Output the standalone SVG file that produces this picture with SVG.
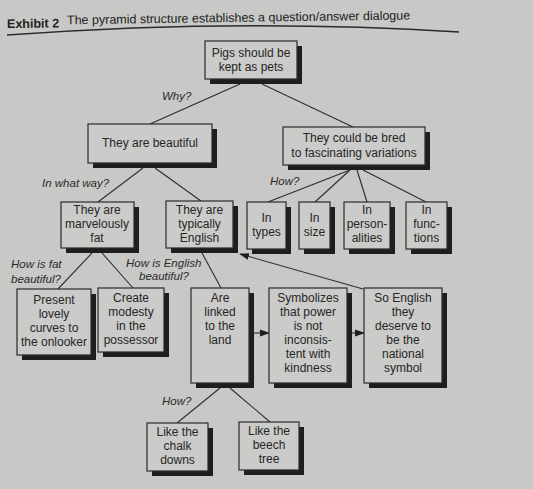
<svg xmlns="http://www.w3.org/2000/svg" width="533" height="489" viewBox="0 0 533 489">
<defs>
<style>
.bg{fill:#c8c8c6}
.sh{fill:#1e1e1e}
.bx{fill:#cbcbc9;stroke:#2a2a2a;stroke-width:1.2}
.t{font-family:"Liberation Sans",Arial,sans-serif;font-size:12px;fill:#262626;text-anchor:middle}
.q{font-family:"Liberation Sans",Arial,sans-serif;font-size:11.5px;font-style:italic;fill:#2a2a2a}
.c{stroke:#2e2e2e;stroke-width:1.1;fill:none}
</style>
<marker id="ah" markerWidth="10" markerHeight="8" refX="9" refY="4" orient="auto" markerUnits="userSpaceOnUse">
<path d="M0,0.5 L10,4 L0,7.5 Z" fill="#1e1e1e"/>
</marker>
</defs>
<rect class="bg" x="0" y="0" width="533" height="489"/>
<g id="title" transform="rotate(-0.8 230 22)">
<text x="7" y="25" font-family="Liberation Sans,Arial,sans-serif" font-size="12.5" font-weight="bold" fill="#222">Exhibit 2</text>
<text x="67" y="22" font-family="Liberation Sans,Arial,sans-serif" font-size="12.5" fill="#222">The pyramid structure establishes a question/answer dialogue</text>
</g>
<path d="M7,35 Q240,18 459,32" stroke="#2a2a2a" stroke-width="1.5" fill="none"/>

<g id="connectors">
<line class="c" x1="240" y1="84" x2="150" y2="124"/>
<line class="c" x1="262" y1="84" x2="353" y2="127"/>
<line class="c" x1="143" y1="168" x2="98" y2="202"/>
<line class="c" x1="155" y1="168" x2="201" y2="201"/>
<line class="c" x1="350" y1="170" x2="268" y2="202"/>
<line class="c" x1="350" y1="170" x2="315" y2="202"/>
<line class="c" x1="357" y1="170" x2="367" y2="202"/>
<line class="c" x1="363" y1="170" x2="426" y2="202"/>
<line class="c" x1="92" y1="253" x2="58" y2="289"/>
<line class="c" x1="102" y1="253" x2="133" y2="288"/>
<line class="c" x1="202" y1="253" x2="221" y2="288"/>
<line class="c" x1="363" y1="289" x2="240" y2="254" marker-end="url(#ah)"/>
<line class="c" x1="249" y1="333" x2="269" y2="333" marker-end="url(#ah)"/>
<line class="c" x1="347" y1="333" x2="364" y2="333" marker-end="url(#ah)"/>
<line class="c" x1="220" y1="388" x2="177" y2="423"/>
<line class="c" x1="230" y1="388" x2="270" y2="422"/>
</g>

<g id="labels">
<text class="q" x="162" y="100">Why?</text>
<text class="q" x="42" y="187">In what way?</text>
<text class="q" x="270" y="185">How?</text>
<text class="q" x="11" y="268">How is fat</text>
<text class="q" x="11" y="283">beautiful?</text>
<text class="q" x="126" y="267">How is English</text>
<text class="q" x="139" y="280">beautiful?</text>
<text class="q" x="162" y="405">How?</text>
</g>

<g id="n-root"><rect class="sh" x="210" y="46" width="92" height="38"/><rect class="bx" x="205" y="41" width="92" height="38"/><text class="t" x="251" y="57">Pigs should be</text><text class="t" x="251" y="71">kept as pets</text></g>

<g id="n-beautiful"><rect class="sh" x="93" y="129" width="124" height="39"/><rect class="bx" x="88" y="124" width="124" height="39"/><text class="t" x="150" y="147">They are beautiful</text></g>

<g id="n-variations"><rect class="sh" x="288" y="132" width="142" height="38"/><rect class="bx" x="283" y="127" width="142" height="38"/><text class="t" x="354" y="142">They could be bred</text><text class="t" x="354" y="157">to fascinating variations</text></g>

<g id="n-fat"><rect class="sh" x="66" y="207" width="73" height="46"/><rect class="bx" x="61" y="202" width="73" height="46"/><text class="t" x="97" y="214">They are</text><text class="t" x="97" y="228">marvelously</text><text class="t" x="97" y="242">fat</text></g>

<g id="n-english"><rect class="sh" x="171" y="206" width="67" height="47"/><rect class="bx" x="166" y="201" width="67" height="47"/><text class="t" x="199.5" y="214">They are</text><text class="t" x="199.5" y="228">typically</text><text class="t" x="199.5" y="242">English</text></g>

<g id="n-types"><rect class="sh" x="252" y="207" width="39" height="47"/><rect class="bx" x="247" y="202" width="39" height="47"/><text class="t" x="266.5" y="222">In</text><text class="t" x="266.5" y="236">types</text></g>

<g id="n-size"><rect class="sh" x="304" y="207" width="31" height="47"/><rect class="bx" x="299" y="202" width="31" height="47"/><text class="t" x="314.5" y="222">In</text><text class="t" x="314.5" y="236">size</text></g>

<g id="n-personalities"><rect class="sh" x="349" y="207" width="46" height="47"/><rect class="bx" x="344" y="202" width="46" height="47"/><text class="t" x="367" y="214">In</text><text class="t" x="367" y="228">person-</text><text class="t" x="367" y="242">alities</text></g>

<g id="n-functions"><rect class="sh" x="411" y="207" width="41" height="47"/><rect class="bx" x="406" y="202" width="41" height="47"/><text class="t" x="426.5" y="214">In</text><text class="t" x="426.5" y="228">func-</text><text class="t" x="426.5" y="242">tions</text></g>

<g id="n-curves"><rect class="sh" x="22" y="294" width="74" height="66"/><rect class="bx" x="17" y="289" width="74" height="66"/><text class="t" x="54" y="304">Present</text><text class="t" x="54" y="318">lovely</text><text class="t" x="54" y="332">curves to</text><text class="t" x="54" y="346">the onlooker</text></g>

<g id="n-modesty"><rect class="sh" x="103" y="293" width="66" height="64"/><rect class="bx" x="98" y="288" width="66" height="64"/><text class="t" x="131" y="302">Create</text><text class="t" x="131" y="316">modesty</text><text class="t" x="131" y="330">in the</text><text class="t" x="131" y="344">possessor</text></g>

<g id="n-land"><rect class="sh" x="196" y="293" width="58" height="95"/><rect class="bx" x="191" y="288" width="58" height="95"/><text class="t" x="220" y="302">Are</text><text class="t" x="220" y="316">linked</text><text class="t" x="220" y="330">to the</text><text class="t" x="220" y="344">land</text></g>

<g id="n-symbolizes"><rect class="sh" x="274" y="293" width="78" height="95"/><rect class="bx" x="269" y="288" width="78" height="95"/><text class="t" x="308" y="302">Symbolizes</text><text class="t" x="308" y="316">that power</text><text class="t" x="308" y="330">is not</text><text class="t" x="308" y="344">inconsis-</text><text class="t" x="308" y="358">tent with</text><text class="t" x="308" y="372">kindness</text></g>

<g id="n-national"><rect class="sh" x="369" y="293" width="78" height="95"/><rect class="bx" x="364" y="288" width="78" height="95"/><text class="t" x="403" y="302">So English</text><text class="t" x="403" y="316">they</text><text class="t" x="403" y="330">deserve to</text><text class="t" x="403" y="344">be the</text><text class="t" x="403" y="358">national</text><text class="t" x="403" y="372">symbol</text></g>

<g id="n-chalk"><rect class="sh" x="152" y="428" width="61" height="48"/><rect class="bx" x="147" y="423" width="61" height="48"/><text class="t" x="177.5" y="436">Like the</text><text class="t" x="177.5" y="450">chalk</text><text class="t" x="177.5" y="464">downs</text></g>

<g id="n-beech"><rect class="sh" x="244" y="427" width="60" height="48"/><rect class="bx" x="239" y="422" width="60" height="48"/><text class="t" x="269" y="435">Like the</text><text class="t" x="269" y="449">beech</text><text class="t" x="269" y="463">tree</text></g>
</svg>
